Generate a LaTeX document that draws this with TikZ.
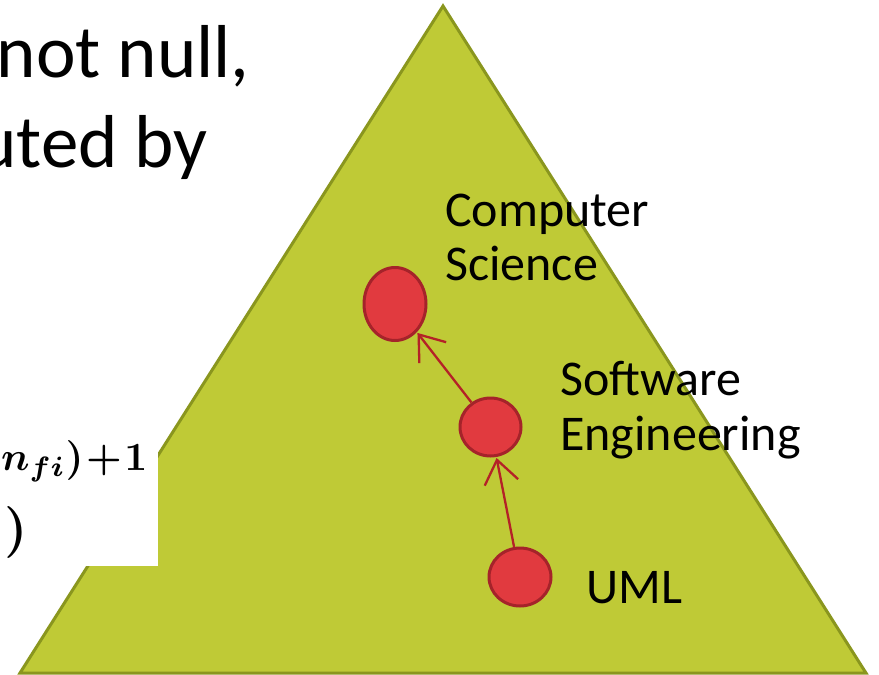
\documentclass[tikz,border=0pt]{standalone}
\usepackage{graphicx}
\usepackage{fontspec}
\setmainfont{Carlito}
\usetikzlibrary{shapes.geometric,arrows.meta}
\definecolor{trifill}{RGB}{191,202,54}
\definecolor{triline}{RGB}{138,150,30}
\definecolor{dotfill}{RGB}{225,58,63}
\definecolor{dotline}{RGB}{165,35,42}
\definecolor{arrline}{RGB}{180,34,39}
\tikzset{
  dot/.style={ellipse, draw=dotline, fill=dotfill, line width=3pt, inner sep=0pt},
  lbl/.style={anchor=base west, inner sep=0pt, font=\fontsize{50}{58}\selectfont},
  bigtxt/.style={anchor=base east, inner sep=0pt, font=\fontsize{75}{90}\selectfont},
  link/.style={draw=arrline, line width=2.3pt, -{Straight Barb[length=23pt, width=34pt, line width=2.3pt]}, shorten >=1pt}
}
\begin{document}
\begin{tikzpicture}[x=1pt, y=-1pt]
\useasboundingbox (0,0) rectangle (879,675);
% text behind
\node[bigtxt] (t1) at (250,77) {not null,};
\node[bigtxt] (t2) at (208,167) {uted by};
% triangle
\coordinate (apex) at (443,6);
\coordinate (bl) at (20,673);
\coordinate (br) at (866,673);
\draw[fill=trifill, draw=triline, line width=3pt, line join=miter] (apex) -- (br) -- (bl) -- cycle;
% white box with formula
\fill[white] (0,420) rectangle (158,566);
\node[anchor=base west, inner sep=0pt] (f1) at (1,470) {\scalebox{4.0}{\boldmath$n_{fi})\!+\!1$}};
\node[anchor=base west, inner sep=0pt] (f2) at (4,545) {\scalebox{5.2}{\boldmath$)$}};
% dots
\node[dot, minimum width=62pt, minimum height=73pt] (cs) at (395,304) {};
\node[dot, minimum width=61pt, minimum height=58pt] (se) at (490.5,427) {};
\node[dot, minimum width=62pt, minimum height=58pt] (uml) at (520,577) {};
\draw[link] (se) -- (cs);
\draw[link] (uml) -- (se);
% labels
\node[lbl] (l1) at (445,226) {Computer};
\node[lbl] (l2) at (445,280) {Science};
\node[lbl] (l3) at (560,395) {Software};
\node[lbl] (l4) at (560,450) {Engineering};
\node[lbl] (l5) at (586,603) {UML};
\end{tikzpicture}
\end{document}
